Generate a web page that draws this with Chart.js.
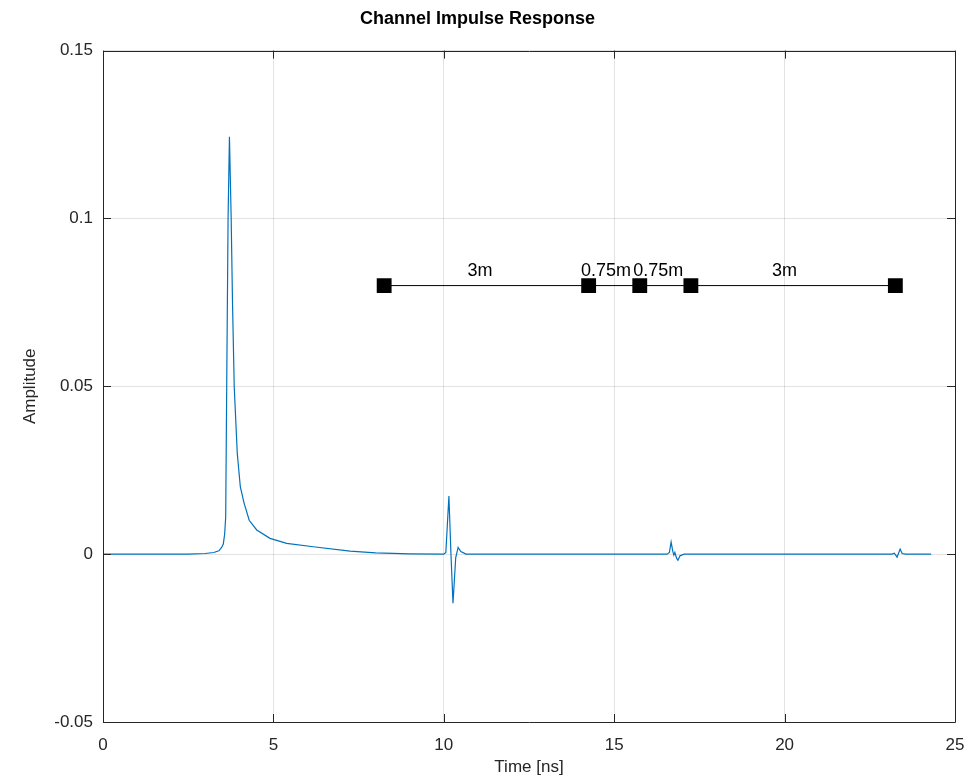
<!DOCTYPE html>
<html>
<head>
<meta charset="utf-8">
<script src="https://cdn.jsdelivr.net/npm/chart.js@4/dist/chart.umd.min.js"></script>
<style>
  html, body { margin: 0; padding: 0; background: #fff; }
  #wrap { width: 974px; height: 781px; }
</style>
</head>
<body>
<div id="wrap"><canvas id="c" width="974" height="781"></canvas></div>
<script>
// ---- DATA ----
const chartTitle = 'Channel Impulse Response';
const xTitle = 'Time [ns]';
const yTitle = 'Amplitude';
const xTicks = [0, 5, 10, 15, 20, 25];
const yTicks = [-0.05, 0, 0.05, 0.1, 0.15];

// impulse response: time [ns]
const respTime = [0, 2.5, 3.0, 3.25, 3.4, 3.48, 3.53, 3.57, 3.6, 3.63, 3.67, 3.71, 3.76, 3.8, 3.85, 3.94, 4.03, 4.14, 4.29, 4.51, 4.9, 5.39, 6.17, 7.25, 8.0, 9.0, 10.0,
  10.06, 10.15, 10.21, 10.27, 10.35, 10.42, 10.5, 10.65,
  16.55, 16.62, 16.67, 16.72, 16.75, 16.78, 16.83, 16.87, 16.93, 17.05,
  23.15, 23.22, 23.3, 23.39, 23.45, 23.55, 24.3];
// impulse response: amplitude
const respAmp = [0, 0, 0.0002, 0.0005, 0.001, 0.002, 0.003, 0.006, 0.011, 0.05, 0.1, 0.1243, 0.1005, 0.075, 0.05, 0.03, 0.02, 0.0152, 0.0101, 0.0072, 0.0047, 0.0032, 0.0022, 0.0009, 0.0004, 0.0001, 0,
  0.0005, 0.0173, 0, -0.0146, -0.001, 0.002, 0.0008, 0,
  0, 0.0005, 0.0036, 0.0008, -0.0003, 0.0005, -0.0012, -0.0018, -0.0005, 0,
  0, 0.0003, -0.0009, 0.0015, 0.0002, 0, 0];

// geometry sketch markers
const markerTime = [8.25, 14.25, 15.75, 17.25, 23.25];
const markerAmp = [0.08, 0.08, 0.08, 0.08, 0.08];
// sketch labels
const sketchLabels = ['3m', '0.75m', '0.75m', '3m'];
const sketchLabelX = [11.06, 14.76, 16.29, 20.0];
const sketchLabelY = [0.0843, 0.0843, 0.0843, 0.0843];

// ---- CHART ----
const FONT = '"Liberation Sans", Arial, Helvetica, sans-serif';
const AXIS_COLOR = '#262626';

const respData = respTime.map((t, i) => ({ x: t, y: respAmp[i] }));
const markerData = markerTime.map((t, i) => ({ x: t, y: markerAmp[i] }));

const bgPlugin = {
  id: 'bg',
  beforeDraw(chart) {
    const ctx = chart.ctx;
    ctx.save();
    ctx.fillStyle = '#fff';
    ctx.fillRect(0, 0, chart.width, chart.height);
    ctx.restore();
  }
};

const boxPlugin = {
  id: 'box',
  afterDraw(chart) {
    const ctx = chart.ctx;
    const a = chart.chartArea;
    const xs = chart.scales.x, ys = chart.scales.y;
    const L = 8;
    ctx.save();
    ctx.strokeStyle = AXIS_COLOR;
    ctx.lineWidth = 1;
    ctx.beginPath();
    ctx.rect(Math.round(a.left) + 0.5, Math.round(a.top) + 0.5, Math.round(a.right - a.left), Math.round(a.bottom - a.top));
    xTicks.forEach(v => {
      const px = Math.round(xs.getPixelForValue(v)) + 0.5;
      ctx.moveTo(px, a.bottom); ctx.lineTo(px, a.bottom - L);
      ctx.moveTo(px, a.top); ctx.lineTo(px, a.top + L);
    });
    yTicks.forEach(v => {
      const py = Math.round(ys.getPixelForValue(v)) + 0.5;
      ctx.moveTo(a.left, py); ctx.lineTo(a.left + L, py);
      ctx.moveTo(a.right, py); ctx.lineTo(a.right - L, py);
    });
    ctx.stroke();
    ctx.restore();
  }
};

const labelPlugin = {
  id: 'sketchLabels',
  afterDatasetsDraw(chart) {
    const ctx = chart.ctx;
    const xs = chart.scales.x, ys = chart.scales.y;
    ctx.save();
    ctx.fillStyle = '#000';
    ctx.font = '18px ' + FONT;
    ctx.textAlign = 'center';
    ctx.textBaseline = 'middle';
    sketchLabels.forEach((s, i) => {
      ctx.fillText(s, xs.getPixelForValue(sketchLabelX[i]), ys.getPixelForValue(sketchLabelY[i]));
    });
    ctx.restore();
  }
};

new Chart(document.getElementById('c'), {
  type: 'line',
  data: {
    datasets: [
      {
        label: 'sketch',
        data: markerData,
        borderColor: '#000',
        backgroundColor: '#000',
        borderWidth: 1,
        pointStyle: 'rect',
        pointRadius: 10.5,
        pointBackgroundColor: '#000',
        pointBorderColor: '#000',
        pointBorderWidth: 0,
        order: 0
      },
      {
        label: 'CIR',
        data: respData,
        borderColor: '#0072BD',
        borderWidth: 1.2,
        pointRadius: 0,
        tension: 0,
        fill: false,
        order: 1
      }
    ]
  },
  options: {
    responsive: false,
    animation: false,
    devicePixelRatio: 1,
    layout: { padding: { left: 0, right: 19, top: 0, bottom: 0 } },
    plugins: {
      legend: { display: false },
      tooltip: { enabled: false },
      title: {
        display: true,
        text: chartTitle,
        color: '#000',
        font: { family: FONT, size: 18, weight: 'bold' },
        padding: { top: 8, bottom: 21 }
      }
    },
    scales: {
      x: {
        type: 'linear',
        min: 0, max: 25,
        afterBuildTicks(s) { s.ticks = xTicks.map(v => ({ value: v })); },
        afterFit(s) { s.height = 59; s.paddingLeft = 0; s.paddingRight = 0; },
        grid: { color: 'rgba(38,38,38,0.13)', drawTicks: false, lineWidth: 1 },
        border: { display: false },
        ticks: {
          color: AXIS_COLOR,
          padding: 13,
          maxRotation: 0,
          font: { family: FONT, size: 17 },
          callback: v => String(v)
        },
        title: {
          display: true,
          text: xTitle,
          color: AXIS_COLOR,
          font: { family: FONT, size: 17 },
          padding: { top: 0, bottom: 3 }
        }
      },
      y: {
        type: 'linear',
        min: -0.05, max: 0.15,
        afterBuildTicks(s) { s.ticks = yTicks.map(v => ({ value: v })); },
        afterFit(s) { s.width = 103; s.paddingTop = 0; s.paddingBottom = 0; },
        grid: { color: 'rgba(38,38,38,0.13)', drawTicks: false, lineWidth: 1 },
        border: { display: false },
        ticks: {
          color: AXIS_COLOR,
          padding: 10,
          font: { family: FONT, size: 17 },
          callback: v => String(Number(v.toFixed(4)))
        },
        title: {
          display: true,
          text: yTitle,
          color: AXIS_COLOR,
          font: { family: FONT, size: 17 },
          padding: { top: 20, bottom: 0 }
        }
      }
    }
  },
  plugins: [bgPlugin, boxPlugin, labelPlugin]
});
</script>
</body>
</html>
